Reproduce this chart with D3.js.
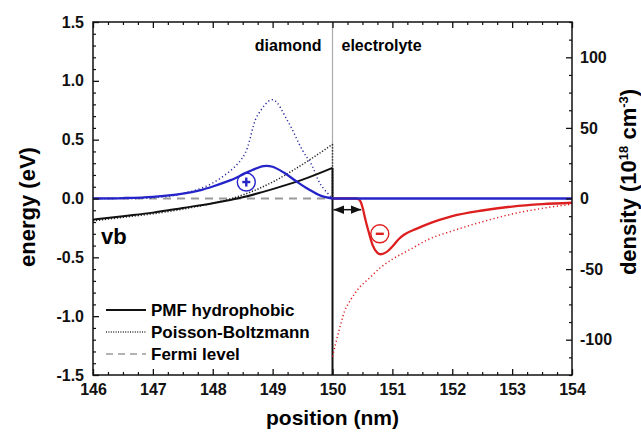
<!DOCTYPE html>
<html>
<head>
<meta charset="utf-8">
<script src="https://cdn.jsdelivr.net/npm/d3@7"></script>
<style>
  body { margin: 0; background: #fff; }
  text { font-family: Arial, "Liberation Sans", sans-serif; font-weight: bold; }
</style>
</head>
<body>
<div id="canvas"></div>
<script>
// energy curves (eV), left axis
const pmfX = [146, 146.5, 147, 147.5, 148, 148.5, 149, 149.5, 150];
const pmfE = [-0.18, -0.15, -0.12, -0.08, -0.04, 0.01, 0.08, 0.16, 0.26];
const pbX = [146, 146.5, 147, 147.5, 148, 148.5, 149, 149.5, 150];
const pbE = [-0.19, -0.16, -0.13, -0.09, -0.04, 0.03, 0.14, 0.29, 0.46];
const fermiX = [146, 150];
const fermiE = [0, 0];

// hole density in diamond (1e18 cm^-3), right axis
const holeX = [146, 146.5, 147, 147.5, 147.8, 148, 148.3, 148.6, 148.85, 149, 149.2, 149.4, 149.6, 149.8, 150];
const holePMF = [0, 0.3, 1.2, 3.5, 6, 8.5, 13, 19, 23, 22.5, 18, 12, 6.5, 2, 0];
const holeFlatX = [150, 154];
const holeFlat = [0, 0];
const holePBX = [146, 147, 147.5, 148, 148.5, 148.75, 149, 149.25, 149.5, 149.65, 149.8, 150];
const holePB = [0, 0.5, 3.5, 11, 29, 59, 70, 55, 34, 24, 10, 0];

// anion density in electrolyte, right axis
const ionX = [150, 150.4, 150.45, 150.5, 150.55, 150.6, 150.67, 150.75, 150.8, 150.9, 151, 151.1, 151.2, 151.4, 151.6, 151.8, 152, 152.5, 153, 153.5, 154];
const ionPMF = [0, 0, -1, -6, -15, -23, -33, -38.5, -39.5, -38, -34, -29, -25.5, -21.5, -18, -15, -12.5, -8.5, -5.7, -4, -3];
const ionPBX = [150, 150.05, 150.1, 150.2, 150.3, 150.45, 150.6, 150.8, 151, 151.3, 151.6, 152, 152.5, 153, 153.5, 154];
const ionPB = [-112, -103, -95, -80, -72, -63, -57, -49, -43, -36, -29, -23, -16.5, -11, -7, -4];

const xTicks = [146, 147, 148, 149, 150, 151, 152, 153, 154];
const yTicks = [-1.5, -1.0, -0.5, 0.0, 0.5, 1.0, 1.5];
const y2Ticks = [-100, -50, 0, 50, 100];
const legendLabels = ["PMF hydrophobic", "Poisson-Boltzmann", "Fermi level"];

const W = 641, H = 434;
const margin = { top: 22, right: 69, bottom: 59, left: 93 };
const width = W - margin.left - margin.right;
const height = H - margin.top - margin.bottom;

const blue = "#2424c8", red = "#dd1f1f", grey = "#9a9a9a";

const svg = d3.select("#canvas").append("svg")
    .attr("width", W).attr("height", H);
const g = svg.append("g")
    .attr("transform", `translate(${margin.left},${margin.top})`);

const x = d3.scaleLinear().domain([146, 154]).range([0, width]);
const y = d3.scaleLinear().domain([-1.5, 1.5]).range([height, 0]);
const y2 = d3.scaleLinear().domain([-125, 125]).range([height, 0]);

g.append("clipPath").attr("id", "clip")
  .append("rect").attr("width", width).attr("height", height);
const plot = g.append("g").attr("clip-path", "url(#clip)");

// interface line
plot.append("line")
    .attr("x1", x(150)).attr("x2", x(150))
    .attr("y1", 0).attr("y2", y(0))
    .style("stroke", "#aaa").style("stroke-width", 1.2);

function pts(xs, ys) { return xs.map((v, i) => [v, ys[i]]); }

const lineE = d3.line().x(d => x(d[0])).y(d => y(d[1])).curve(d3.curveMonotoneX);
const lineD = d3.line().x(d => x(d[0])).y(d => y2(d[1])).curve(d3.curveMonotoneX);
const lineH = d3.line().x(d => x(d[0])).y(d => y2(d[1])).curve(d3.curveCatmullRom);

function draw(path, data, color, w, dash) {
  plot.append("path")
      .datum(data)
      .attr("d", path)
      .style("fill", "none")
      .style("stroke", color)
      .style("stroke-width", w)
      .style("stroke-dasharray", dash || null);
}

// fermi level
draw(d3.line().x(d => x(d[0])).y(d => y(d[1])), pts(fermiX, fermiE), grey, 1.8, "8,6");

// vertical drops at the interface
const drop = d3.line().x(d => x(d[0])).y(d => y(d[1]));
draw(d3.line().x(d => x(d[0])).y(d => y2(d[1])), [[150, 0], [150, -80]], "#a01010", 1);
draw(drop, [[150, pbE[pbE.length - 1]], [150, 0]], "#222", 1.5, "1.2,1.8");
draw(drop, [[150, pmfE[pmfE.length - 1]], [150, -1.6]], "#111", 2);

// dotted PB curves
draw(lineE, pts(pbX, pbE), "#222", 1.5, "1.2,1.8");
draw(lineH, pts(holePBX, holePB), "#3030a0", 1.5, "1.2,2.6");
draw(lineD, pts(ionPBX, ionPB), red, 1.5, "1.2,2.6");

// solid curves
draw(lineE, pts(pmfX, pmfE), "#111", 2);
draw(lineD, pts(ionX, ionPMF), red, 2.3);
draw(lineD, pts(holeFlatX, holeFlat), blue, 2.3);
draw(lineH, pts(holeX, holePMF), blue, 2.3);

// arrow between interface and ion layer
const defs = svg.append("defs");
["s", "e"].forEach(k => {
  defs.append("marker").attr("id", "arr" + k)
      .attr("viewBox", "0 0 10 10").attr("refX", 10).attr("refY", 5)
      .attr("markerWidth", 7).attr("markerHeight", 7)
      .attr("orient", "auto-start-reverse")
    .append("path").attr("d", "M0,1 L10,5 L0,9 Z").style("fill", "#111");
});
g.append("line")
    .attr("x1", x(150) + 1).attr("x2", x(150.48))
    .attr("y1", y(-0.095)).attr("y2", y(-0.095))
    .style("stroke", "#111").style("stroke-width", 1.5)
    .attr("marker-start", "url(#arrs)").attr("marker-end", "url(#arre)");

// charge symbols
function charge(cx, cy, color, sign) {
  g.append("circle").attr("cx", cx).attr("cy", cy).attr("r", 9)
      .style("fill", "none").style("stroke", color).style("stroke-width", 1.4);
  g.append("line").attr("x1", cx - 4).attr("x2", cx + 4).attr("y1", cy).attr("y2", cy)
      .style("stroke", color).style("stroke-width", 2.4);
  if (sign === "+") {
    g.append("line").attr("x1", cx).attr("x2", cx).attr("y1", cy - 4.5).attr("y2", cy + 4.5)
        .style("stroke", color).style("stroke-width", 2.4);
  }
}
charge(x(148.56), y(0.14), blue, "+");
charge(x(150.79), y(-0.3), red, "-");

// frame and ticks
g.append("rect").attr("width", width).attr("height", height)
    .style("fill", "none").style("stroke", "#111").style("stroke-width", 1.5);

function ticks(axisFn, scale, major, minorStep, len, pad, fmt, tr) {
  const lo = scale.domain()[0], hi = scale.domain()[1];
  const minor = d3.range(lo, hi + 1e-9, minorStep).filter(v => !major.some(m => Math.abs(m - v) < 1e-6));
  const a = g.append("g").attr("transform", tr || null)
      .call(axisFn(scale).tickValues(major).tickSize(-len).tickPadding(pad).tickFormat(fmt));
  a.select(".domain").remove();
  a.selectAll("line").style("stroke", "#111").style("stroke-width", 1.3);
  a.selectAll("text").style("font-size", "16px").style("fill", "#111");
  const b = g.append("g").attr("transform", tr || null)
      .call(axisFn(scale).tickValues(minor).tickSize(-len / 2).tickFormat(""));
  b.select(".domain").remove();
  b.selectAll("line").style("stroke", "#111").style("stroke-width", 1.2);
  return a;
}

const fmtY = v => d3.format(".1f")(v).replace("−", "-");
const fmtI = v => d3.format("d")(v).replace("−", "-");
ticks(d3.axisBottom, x, xTicks, 0.25, 6, 9, fmtI, `translate(0,${height})`);
ticks(d3.axisTop, x, xTicks, 0.25, 6, 9, () => "").selectAll("text").remove();
ticks(d3.axisLeft, y, yTicks, 0.1, 6, 9, fmtY);
ticks(d3.axisRight, y2, y2Ticks, 12.5, 6, 8, fmtI, `translate(${width},0)`);

// region labels
g.append("text").attr("x", x(150) - 11).attr("y", 29).attr("text-anchor", "end")
    .style("font-size", "16px").text("diamond");
g.append("text").attr("x", x(150) + 9).attr("y", 29)
    .style("font-size", "16px").text("electrolyte");
g.append("text").attr("x", 8).attr("y", 222)
    .style("font-size", "22px").text("vb");

// legend
const leg = g.append("g").attr("transform", "translate(13,288)");
const legStyle = [
  { color: "#111", w: 1.8, dash: null },
  { color: "#333", w: 1.5, dash: "1,1.4" },
  { color: grey, w: 1.6, dash: "7,5" }
];
legendLabels.forEach((t, i) => {
  const row = leg.append("g").attr("transform", `translate(0,${i * 22})`);
  row.append("line").attr("x1", 0).attr("x2", 40).attr("y1", 0).attr("y2", 0)
      .style("stroke", legStyle[i].color).style("stroke-width", legStyle[i].w)
      .style("stroke-dasharray", legStyle[i].dash);
  row.append("text").attr("x", 45).attr("y", 6).style("font-size", "17px").text(t);
});

// axis titles
svg.append("text").attr("x", margin.left + width / 2).attr("y", 425)
    .attr("text-anchor", "middle").style("font-size", "21px").text("position (nm)");
svg.append("text")
    .attr("transform", `translate(35,207) rotate(-90)`)
    .attr("text-anchor", "middle").style("font-size", "22px").text("energy (eV)");
const dt = svg.append("text")
    .attr("transform", `translate(636,182) rotate(-90)`)
    .attr("text-anchor", "middle").style("font-size", "22px");
dt.append("tspan").text("density (10");
dt.append("tspan").attr("dy", -8).style("font-size", "13px").text("18");
dt.append("tspan").attr("dy", 8).text(" cm");
dt.append("tspan").attr("dy", -8).style("font-size", "13px").text("-3");
dt.append("tspan").attr("dy", 8).text(")");
</script>
</body>
</html>
